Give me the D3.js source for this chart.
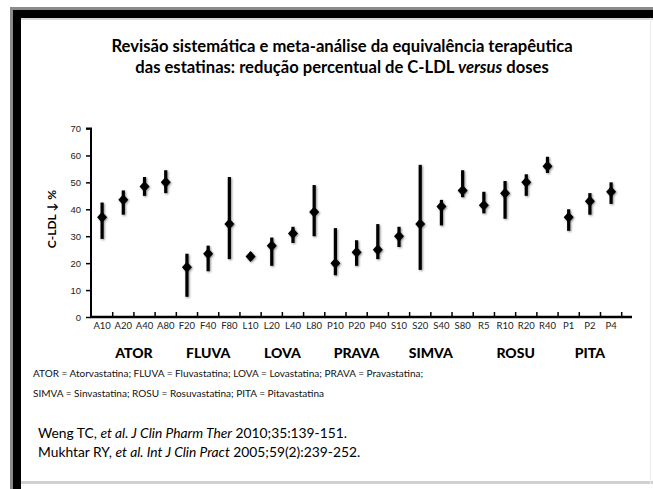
<!DOCTYPE html>
<html lang="pt">
<head>
    <meta charset="UTF-8">
    <title>Estatinas: redução de C-LDL versus doses</title>
    <script src="https://d3js.org/d3.v7.min.js"></script>
    <style>
        body { margin: 0; background: #fff; }
        svg { display: block; font-family: Lato, "Open Sans", sans-serif; }
        .tick-label { font-size: 9.5px; fill: #222; }
        .group-label { font-size: 14px; font-weight: 900; fill: #000; }
        .legend-text { font-size: 10px; fill: #111; }
        .cite { font-size: 13.8px; fill: #000; }
    </style>
</head>
<body>
    <svg id="chart" width="653" height="489"></svg>
    <script>
        // doses (x categories) and LDL-C reduction in %
        const doses = ["A10", "A20", "A40", "A80", "F20", "F40", "F80", "L10", "L20", "L40", "L80",
            "P10", "P20", "P40", "S10", "S20", "S40", "S80", "R5", "R10", "R20", "R40", "P1", "P2", "P4"];
        const means = [37, 43.5, 48.5, 50, 18.5, 23.5, 34.5, 22.5, 26.5, 31, 39,
            20, 24, 25, 30, 34.5, 41, 47, 41.5, 46, 50, 56, 37, 43, 46.5];
        const lows = [29, 38, 45, 46, 7.5, 17, 21.5, 21, 19, 27.5, 30,
            15.5, 19, 21.5, 26, 17.5, 34, 44.5, 38.5, 36.5, 45, 53.5, 32, 38, 42];
        const highs = [42.5, 47, 52, 54.5, 23.5, 26.5, 52, 24, 29.5, 33.5, 49,
            33, 28.5, 34.5, 33.5, 56.5, 43.5, 54.5, 46.5, 50.5, 53, 59.5, 40, 46, 50];

        const groups = ["ATOR", "FLUVA", "LOVA", "PRAVA", "SIMVA", "ROSU", "PITA"];
        const groupFirst = ["A10", "F20", "L10", "P10", "S10", "R5", "P1"];
        const groupLast = ["A80", "F80", "L80", "P40", "S80", "R40", "P4"];
        const yTicks = [0, 10, 20, 30, 40, 50, 60, 70];

        const legendLines = [
            "ATOR = Atorvastatina;  FLUVA = Fluvastatina;  LOVA = Lovastatina;  PRAVA = Pravastatina;",
            "SIMVA = Sinvastatina;  ROSU = Rosuvastatina;  PITA = Pitavastatina"
        ];

        const svg = d3.select("#chart");

        // frame of the slide
        svg.append("rect").attr("x", 10).attr("y", 7).attr("width", 643).attr("height", 3).attr("fill", "#8a8a8a");
        svg.append("rect").attr("x", 10).attr("y", 7).attr("width", 3).attr("height", 482).attr("fill", "#8a8a8a");
        svg.append("rect").attr("x", 13).attr("y", 10).attr("width", 640).attr("height", 8).attr("fill", "#000");
        svg.append("rect").attr("x", 13).attr("y", 10).attr("width", 8).attr("height", 479).attr("fill", "#000");
        svg.append("rect").attr("x", 21).attr("y", 18).attr("width", 632).attr("height", 2).attr("fill", "#d8d8d8");
        svg.append("rect").attr("x", 21).attr("y", 481).attr("width", 632).attr("height", 3).attr("fill", "#d0d0d0");
        svg.append("rect").attr("x", 650).attr("y", 18).attr("width", 1).attr("height", 466).attr("fill", "#ececec");

        const defs = svg.append("defs");
        const filter = defs.append("filter").attr("id", "shadow")
            .attr("x", "-50%").attr("y", "-50%").attr("width", "200%").attr("height", "200%");
        filter.append("feGaussianBlur").attr("in", "SourceAlpha").attr("stdDeviation", 1.3).attr("result", "blur");
        filter.append("feOffset").attr("in", "blur").attr("dx", 1.2).attr("dy", 1.2).attr("result", "off");
        filter.append("feComponentTransfer").attr("in", "off").attr("result", "soft")
            .append("feFuncA").attr("type", "linear").attr("slope", 0.45);
        const merge = filter.append("feMerge");
        merge.append("feMergeNode").attr("in", "soft");
        merge.append("feMergeNode").attr("in", "SourceGraphic");

        // title
        const title = svg.append("text")
            .attr("x", 342)
            .attr("text-anchor", "middle")
            .attr("font-size", "16.6px")
            .attr("font-weight", "bold");
        title.append("tspan").attr("x", 342).attr("y", 52)
            .text("Revisão sistemática e meta-análise da equivalência terapêutica");
        const t2 = title.append("tspan").attr("x", 342).attr("y", 73);
        t2.append("tspan").text("das estatinas: redução percentual de C-LDL ");
        t2.append("tspan").attr("font-style", "italic").text("versus");
        t2.append("tspan").text(" doses");

        const x = d3.scaleBand().domain(doses).range([91.5, 621.7]).padding(0);
        const y = d3.scaleLinear().domain([0, 70]).range([317, 128.5]);

        // y axis
        const yAxis = svg.append("g").attr("transform", "translate(91,0)")
            .call(d3.axisLeft(y).tickValues(yTicks).tickSize(5).tickPadding(5));
        yAxis.select(".domain").attr("stroke", "#000").attr("stroke-width", 2)
            .attr("d", `M-5,${y(70)}H0V${y(0)}`);
        yAxis.selectAll(".tick line").attr("stroke", "#000").attr("stroke-width", 1.5);
        yAxis.selectAll(".tick text").attr("class", "tick-label").attr("font-size", null).attr("font-family", null);

        svg.append("text")
            .attr("transform", `translate(56,219) rotate(-90)`)
            .attr("text-anchor", "middle")
            .attr("font-size", "12px")
            .attr("font-weight", "bold")
            .text("C-LDL ↓ %");

        // x axis (ticks between categories, pointing up)
        const tickPos = doses.map(d => x(d) + x.bandwidth());
        svg.append("line").attr("x1", 90).attr("x2", 632).attr("y1", y(0)).attr("y2", y(0))
            .attr("stroke", "#000").attr("stroke-width", 2.5);
        svg.append("g").selectAll("line").data(tickPos).join("line")
            .attr("x1", d => d).attr("x2", d => d)
            .attr("y1", y(0)).attr("y2", y(0) - 5)
            .attr("stroke", "#000").attr("stroke-width", 1.5);
        svg.append("g").selectAll("text").data(doses).join("text")
            .attr("class", "tick-label")
            .attr("x", d => x(d) + x.bandwidth() / 2)
            .attr("y", 329)
            .attr("text-anchor", "middle")
            .text(d => d);

        // error bars and markers
        const marks = svg.append("g").attr("filter", "url(#shadow)");
        marks.selectAll("line").data(doses).join("line")
            .attr("x1", d => x(d) + x.bandwidth() / 2)
            .attr("x2", d => x(d) + x.bandwidth() / 2)
            .attr("y1", (d, i) => y(highs[i]))
            .attr("y2", (d, i) => y(lows[i]))
            .attr("stroke", "#000")
            .attr("stroke-width", 3.2);
        marks.selectAll("path").data(doses).join("path")
            .attr("transform", (d, i) => `translate(${x(d) + x.bandwidth() / 2},${y(means[i])})`)
            .attr("d", "M0,-5.5L5,0L0,5.5L-5,0Z")
            .attr("fill", "#000");

        // drug group labels
        svg.append("g").selectAll("text").data(groups).join("text")
            .attr("class", "group-label")
            .attr("x", (d, i) => (x(groupFirst[i]) + x(groupLast[i]) + x.bandwidth()) / 2)
            .attr("y", 358)
            .attr("text-anchor", "middle")
            .text(d => d);

        svg.append("g").selectAll("text").data(legendLines).join("text")
            .attr("class", "legend-text")
            .attr("x", 33)
            .attr("y", (d, i) => 377 + i * 20)
            .text(d => d);

        // references
        const c1 = svg.append("text").attr("class", "cite").attr("x", 38).attr("y", 438);
        c1.append("tspan").text("Weng TC, ");
        c1.append("tspan").attr("font-style", "italic").text("et al. J Clin Pharm Ther");
        c1.append("tspan").text(" 2010;35:139-151.");
        const c2 = svg.append("text").attr("class", "cite").attr("x", 38).attr("y", 457);
        c2.append("tspan").text("Mukhtar RY, ");
        c2.append("tspan").attr("font-style", "italic").text("et al. Int J Clin Pract");
        c2.append("tspan").text(" 2005;59(2):239-252.");
    </script>
</body>
</html>
